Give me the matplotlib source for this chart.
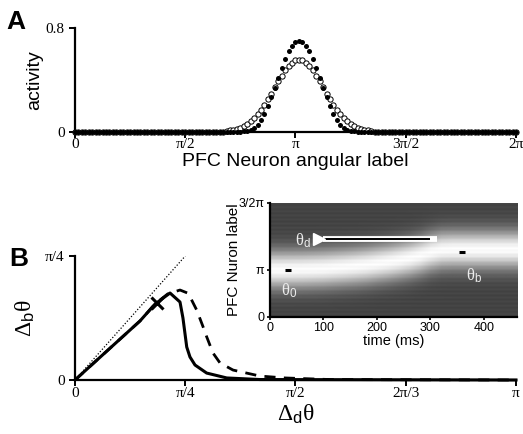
import numpy as np
import matplotlib
matplotlib.use("Agg")
import matplotlib.pyplot as plt

plt.rcParams['font.family'] = ['Liberation Sans', 'DejaVu Sans']
plt.rcParams['mathtext.fontset'] = 'custom'
plt.rcParams['mathtext.rm'] = 'Liberation Serif'
plt.rcParams['mathtext.it'] = 'Liberation Serif:italic'
plt.rcParams['mathtext.sf'] = 'Liberation Sans'

# ---- panel A: activity profiles (values by distance from bump centre, in neurons)
n_neurons = 129
centre_idx = 65
filled_profile = [0.700, 0.692, 0.665, 0.620, 0.560, 0.490, 0.415, 0.340, 0.268,
                  0.200, 0.140, 0.090, 0.055, 0.032, 0.018, 0.009, 0.004]
open_profile = [0.555, 0.550, 0.534, 0.508, 0.474, 0.434, 0.390, 0.343, 0.296,
                0.251, 0.207, 0.169, 0.135, 0.105, 0.081, 0.061, 0.045, 0.034,
                0.025, 0.018, 0.012, 0.007, 0.003]

# ---- panel B: drift vs distractor distance
solid_x = [0, 0.463, 0.570, 0.677, 0.748, 0.769, 0.796, 0.819, 0.855, 0.938, 1.081, 1.318, np.pi]
solid_y = [0, 0.374, 0.481, 0.551, 0.494, 0.393, 0.209, 0.146, 0.095, 0.044, 0.013, 0.003, 0]
dashed_x = [0, 0.463, 0.570, 0.660, 0.748, 0.807, 0.867, 0.912, 0.938, 0.983, 1.033, 1.126, 1.318, 1.496, 1.817, np.pi]
dashed_y = [0, 0.374, 0.481, 0.545, 0.570, 0.549, 0.443, 0.338, 0.274, 0.171, 0.108, 0.063, 0.025, 0.013, 0.003, 0]
cross_pt = (0.582, 0.486)

# ---- inset: bump centre over time (every 20 ms)
t_cols = np.arange(0, 480, 20)
bump_centre = [3.14, 3.14, 3.15, 3.16, 3.18, 3.21, 3.26, 3.31, 3.37, 3.44, 3.54, 3.64,
               3.76, 3.90, 4.08, 4.30, 4.45, 4.48, 4.48, 4.48, 4.48, 4.48, 4.48, 4.48]
y_top = 7.62
theta0 = (35, np.pi)
theta_d = 5.23
theta_b = (360, 4.34)

fig = plt.figure(figsize=(5.23, 4.34), dpi=100)

def style(ax):
    for s in ['top', 'right']:
        ax.spines[s].set_visible(False)
    for s in ['left', 'bottom']:
        ax.spines[s].set_linewidth(1.6)
    ax.tick_params(width=1.4, length=4, direction='out')

# ---------------- A
axA = fig.add_axes([0.1434, 0.6959, 0.8432, 0.2396])
theta = np.linspace(0, 2 * np.pi, n_neurons)
act_f = np.zeros(n_neurons)
act_o = np.zeros(n_neurons)
for k, v in enumerate(filled_profile):
    act_f[centre_idx - k] = v
    act_f[centre_idx + k] = v
for k, v in enumerate(open_profile):
    act_o[centre_idx - k] = v
    act_o[centre_idx + k] = v
axA.plot(theta, act_o, 'o', ms=3.8, mfc='white', mec='black', mew=0.7, clip_on=False, zorder=3)
axA.plot(theta, act_f, 'o', ms=3.6, mfc='black', mec='black', mew=0, clip_on=False, zorder=4)
axA.set_xlim(0, 2 * np.pi)
axA.set_ylim(0, 0.8)
style(axA)
axA.set_xticks([0, np.pi / 2, np.pi, 3 * np.pi / 2, 2 * np.pi])
axA.set_xticklabels(['0', 'π/2', 'π', '3π/2', '2π'], family='Liberation Serif', fontsize=11)
axA.set_yticks([0, 0.8])
axA.set_yticklabels(['0', '0.8'], family='Liberation Serif', fontsize=11)
axA.tick_params(axis='x', pad=0)
axA.set_ylabel('activity', fontsize=14, labelpad=2)
axA.set_xlabel('PFC Neuron angular label', fontsize=14, labelpad=2)
fig.text(0.013, 0.933, 'A', fontsize=19, fontweight='bold')

# ---------------- B
axB = fig.add_axes([0.1434, 0.1244, 0.8432, 0.2857])
axB.plot([0, np.pi / 4], [0, np.pi / 4], color='black', lw=0.9, ls=(0, (1, 1.5)))
axB.plot(dashed_x, dashed_y, color='black', lw=2.0, ls=(0, (4, 3)), clip_on=False)
axB.plot(solid_x, solid_y, color='black', lw=2.2, clip_on=False)
axB.plot(*cross_pt, marker='x', ms=8, mew=2.2, color='black')
axB.set_xlim(0, np.pi)
axB.set_ylim(0, np.pi / 4)
style(axB)
axB.set_xticks([0, np.pi / 4, np.pi / 2, 3 * np.pi / 4, np.pi])
axB.set_xticklabels(['0', 'π/4', 'π/2', '2π/3', 'π'], family='Liberation Serif', fontsize=11)
axB.set_yticks([0, np.pi / 4])
axB.set_yticklabels(['0', 'π/4'], family='Liberation Serif', fontsize=11)
axB.tick_params(axis='x', pad=1)
axB.set_ylabel(r'$\mathrm{\Delta}_\mathsf{b}\mathrm{\theta}$', fontsize=17, labelpad=6)
axB.set_xlabel(r'$\mathrm{\Delta}_\mathsf{d}\mathrm{\theta}$', fontsize=17, labelpad=2)
fig.text(0.017, 0.387, 'B', fontsize=19, fontweight='bold')

# ---------------- inset
axI = fig.add_axes([0.5153, 0.2696, 0.4732, 0.2627])
rows = np.linspace(0, y_top, 56)
img = np.zeros((len(rows), len(t_cols)))
for j, c in enumerate(bump_centre):
    img[:, j] = 0.28 + 0.72 * np.exp(-(rows - c) ** 2 / (2 * 0.9 ** 2))
img[::2, :] -= 0.03
axI.imshow(img, origin='lower', aspect='auto', cmap='gray', vmin=0, vmax=1,
           extent=[-10, 470, 0, y_top], interpolation='bilinear')
axI.plot([100, 312], [theta_d, theta_d], color='white', lw=4.2, solid_capstyle='butt')
axI.plot([100, 300], [theta_d, theta_d], color='black', lw=1.4, solid_capstyle='butt')
axI.plot(92, theta_d, marker='>', ms=8, color='white', mec='white')
axI.plot(*theta0, marker='_', ms=5, mew=2.2, color='black')
axI.plot(*theta_b, marker='_', ms=5, mew=2.2, color='black')
axI.text(78, theta_d - 0.15, r'$\mathrm{\theta}_\mathsf{d}$', color='#ececec', fontsize=12, ha='right', va='center')
axI.text(22, 1.75, r'$\mathrm{\theta}_\mathsf{0}$', color='#ececec', fontsize=12, ha='left', va='center')
axI.text(366, 2.75, r'$\mathrm{\theta}_\mathsf{b}$', color='#ececec', fontsize=12, ha='left', va='center')
axI.set_xlim(0, 462)
axI.set_ylim(0, y_top)
for s in ['top', 'right']:
    axI.spines[s].set_visible(False)
for s in ['left', 'bottom']:
    axI.spines[s].set_linewidth(1.6)
axI.tick_params(width=1.2, length=2.5, labelsize=9, pad=1)
axI.set_xticks([0, 100, 200, 300, 400])
axI.set_yticks([0, np.pi, y_top])
axI.set_yticklabels(['0', 'π', '3/2π'])
axI.set_xlabel('time (ms)', fontsize=10.5, labelpad=0)
axI.set_ylabel('PFC Nuron label', fontsize=11)
axI.yaxis.set_label_coords(-0.115, 0.5)

fig.savefig('out.png', dpi=100)
